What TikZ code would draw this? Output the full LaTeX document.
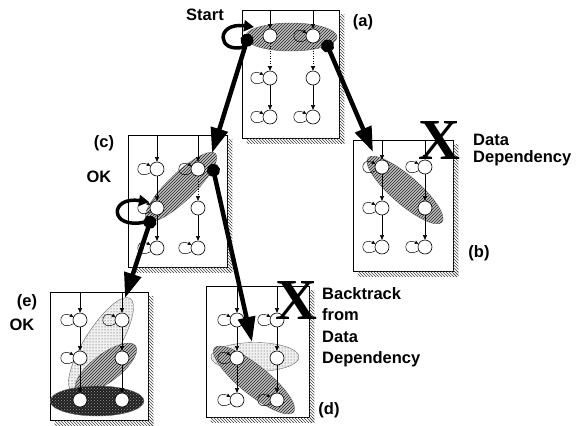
\documentclass[tikz,border=0pt]{standalone}
\usepackage{fontspec}
\newfontfamily\labfont{Liberation Sans}
\newfontfamily\xfont{Liberation Serif}
\usetikzlibrary{shapes.geometric,patterns,arrows.meta,fit}
\begin{document}
\begin{tikzpicture}[x=1pt,y=-1pt,
  st/.style={circle,draw,line width=0.6pt,fill=white,minimum size=14pt,inner sep=0pt},
  boxst/.style={draw,line width=0.8pt,fill=white,inner sep=0pt},
  shadowpat/.style={pattern=north west lines,pattern color=black!75},
  ell/.style={ellipse,draw=black!60,line width=0.4pt,inner sep=0pt},
  hatch/.style={fill=gray!50,postaction={pattern=north east lines,pattern color=black!85}},
  stipple/.style={fill=gray!12,postaction={pattern=dots,pattern color=black!75}},
  dark/.style={fill=black!88,postaction={pattern=crosshatch dots,pattern color=gray!80}},
  edgest/.style={-{Triangle[length=4.5pt,width=4pt]},line width=0.5pt},
  loopst/.style={-{Triangle[length=3.5pt,width=3.5pt]},line width=0.5pt},
  bigarrow/.style={line width=4.5pt,{Circle[length=13pt]}-{Triangle[length=25pt,width=17pt]}},
  thickloop/.style={line width=3.5pt,-{Triangle[length=10pt,width=11pt]}},
  lab/.style={font=\labfont\bfseries\fontsize{16.5}{17}\selectfont,inner sep=0pt},
  bigx/.style={font=\xfont\bfseries\fontsize{58}{58}\selectfont,inner sep=0pt}
]
\useasboundingbox (0,0) rectangle (579,426);

% ---------------- panel (a)
\node[boxst,fit={(242,10)(339,138)}] (aB) {};
\fill[shadowpat] ([yshift=-5pt]aB.north east) rectangle ([xshift=5pt,yshift=-5pt]aB.south east);
\fill[shadowpat] ([xshift=5pt]aB.south west) rectangle ([xshift=5pt,yshift=-5pt]aB.south east);
\node[ell,hatch,minimum width=92pt,minimum height=28pt] (ea) at (291,37) {};
\node[st] (a11) at (270,36) {};
\node[st] (a12) at (313,36) {};
\node[st] (a21) at (270,78) {};
\node[st] (a22) at (313,78) {};
\node[st] (a31) at (270,117) {};
\node[st] (a32) at (313,117) {};
\draw[edgest] (a11 |- aB.north) -- (a11);
\draw[edgest] (a12 |- aB.north) -- (a12);
\draw[edgest,dotted] (a11) -- (a21);
\draw[edgest,dotted] (a12) -- (a22);
\draw[edgest] (a21) -- (a31);
\draw[edgest] (a22) -- (a32);
\foreach \n in {a12,a21,a31,a32}
  \draw[loopst] (\n.210) .. controls +(-17,9) and +(-16,-8) .. (\n.155);

% ---------------- panel (b)
\node[boxst,fit={(353,140)(453,271)}] (bB) {};
\fill[shadowpat] ([yshift=-5pt]bB.north east) rectangle ([xshift=5pt,yshift=-5pt]bB.south east);
\fill[shadowpat] ([xshift=5pt]bB.south west) rectangle ([xshift=5pt,yshift=-5pt]bB.south east);
\node[ell,hatch,minimum width=98pt,minimum height=28pt,rotate=-41] (eb) at (405,190) {};
\node[st] (b11) at (382,167) {};
\node[st] (b12) at (425,167) {};
\node[st] (b21) at (382,208) {};
\node[st] (b22) at (425,208) {};
\node[st] (b31) at (382,247) {};
\node[st] (b32) at (425,247) {};
\draw[edgest] (b11 |- bB.north) -- (b11);
\draw[edgest] (b12 |- bB.north) -- (b12);
\draw[edgest] (b11) -- (b21);
\draw[edgest] (b12) -- (b22);
\draw[edgest] (b21) -- (b31);
\draw[edgest] (b22) -- (b32);
\foreach \n in {b11,b12,b21,b31,b32}
  \draw[loopst] (\n.210) .. controls +(-17,9) and +(-16,-8) .. (\n.155);

% ---------------- panel (c)
\node[boxst,fit={(128,135)(227,267)}] (cB) {};
\fill[shadowpat] ([yshift=-5pt]cB.north east) rectangle ([xshift=5pt,yshift=-5pt]cB.south east);
\fill[shadowpat] ([xshift=5pt]cB.south west) rectangle ([xshift=5pt,yshift=-5pt]cB.south east);
\node[ell,hatch,minimum width=96pt,minimum height=27pt,rotate=44] (ec) at (181,187) {};
\node[st] (c11) at (157,169) {};
\node[st] (c12) at (198,169) {};
\node[st] (c21) at (157,208) {};
\node[st] (c22) at (198,208) {};
\node[st] (c31) at (157,248) {};
\node[st] (c32) at (198,248) {};
\draw[edgest] (c11 |- cB.north) -- (c11);
\draw[edgest] (c12 |- cB.north) -- (c12);
\draw[edgest] (c11) -- (c21);
\draw[edgest,dotted] (c12) -- (c22);
\draw[edgest] (c21) -- (c31);
\draw[edgest] (c22) -- (c32);
\foreach \n in {c11,c12,c21,c31,c32}
  \draw[loopst] (\n.210) .. controls +(-17,9) and +(-16,-8) .. (\n.155);

% ---------------- panel (d)
\node[boxst,fit={(206,286)(309,417)}] (dB) {};
\fill[shadowpat] ([yshift=-5pt]dB.north east) rectangle ([xshift=5pt,yshift=-5pt]dB.south east);
\fill[shadowpat] ([xshift=5pt]dB.south west) rectangle ([xshift=5pt,yshift=-5pt]dB.south east);
\node[ell,stipple,minimum width=88pt,minimum height=29pt] (ed1) at (255,357) {};
\node[ell,hatch,minimum width=102pt,minimum height=29pt,rotate=-39] (ed2) at (254,380) {};
\node[st] (d11) at (237,320) {};
\node[st] (d12) at (277,320) {};
\node[st] (d21) at (237,358) {};
\node[st] (d22) at (277,358) {};
\node[st] (d31) at (237,400) {};
\node[st] (d32) at (277,400) {};
\draw[edgest] (d11 |- dB.north) -- (d11);
\draw[edgest] (d12 |- dB.north) -- (d12);
\draw[edgest] (d11) -- (d21);
\draw[edgest] (d12) -- (d22);
\draw[edgest] (d21) -- (d31);
\draw[edgest] (d22) -- (d32);
\foreach \n in {d11,d12,d21,d31,d32}
  \draw[loopst] (\n.210) .. controls +(-17,9) and +(-16,-8) .. (\n.155);

% ---------------- panel (e)
\node[boxst,fit={(50,292)(148,420)}] (eB) {};
\fill[shadowpat] ([yshift=-5pt]eB.north east) rectangle ([xshift=5pt,yshift=-5pt]eB.south east);
\fill[shadowpat] ([xshift=5pt]eB.south west) rectangle ([xshift=5pt,yshift=-5pt]eB.south east);
\node[ell,stipple,minimum width=110pt,minimum height=34pt,rotate=58] (ee1) at (101,345) {};
\node[ell,hatch,minimum width=74pt,minimum height=28pt,rotate=37] (ee2) at (106,368) {};
\node[ell,dark,minimum width=94pt,minimum height=30pt] (ee3) at (97,401) {};
\node[st] (e11) at (80,320) {};
\node[st] (e12) at (122,320) {};
\node[st] (e21) at (80,358) {};
\node[st] (e22) at (122,358) {};
\node[st] (e31) at (80,400) {};
\node[st] (e32) at (122,400) {};
\draw[edgest] (e11 |- eB.north) -- (e11);
\draw[edgest] (e12 |- eB.north) -- (e12);
\draw[edgest] (e11) -- (e21);
\draw[edgest] (e12) -- (e22);
\draw[edgest] (e21) -- (e31);
\draw[edgest] (e22) -- (e32);
\foreach \n in {e11,e12,e21}
  \draw[loopst] (\n.210) .. controls +(-17,9) and +(-16,-8) .. (\n.155);

% ---------------- labels
\node[lab] (tstart) at (205,15) {Start};
\node[lab] (la) at (363,22) {(a)};
\node[lab] (lb) at (479,253) {(b)};
\node[lab] (lc) at (104,143) {(c)};
\node[lab] (okc) at (99,177) {OK};
\node[lab] (ld) at (329,410) {(d)};
\node[lab] (le) at (27,302) {(e)};
\node[lab] (oke) at (22,325) {OK};
\node[lab,anchor=north west,align=left] (dd) at (473,134) {Data\\Dependency};
\node[lab,anchor=north west,align=left,font=\labfont\bfseries\fontsize{16.5}{21.5}\selectfont] (bt) at (322,287) {Backtrack\\from\\Data\\Dependency};
\node[bigx] (xb) at (439,141) {X};
\node[bigx] (xd) at (296,301) {X};

% ---------------- thick loops and arrows
\coordinate (sl1) at (244,47);
\coordinate (sl2) at (254,27);
\draw[thickloop] (sl1) .. controls (217,54) and (215,22) .. (sl2);
\coordinate (ol1) at (145,222);
\coordinate (ol2) at (149,202);
\draw[thickloop] (ol1) .. controls (109,230) and (109,196) .. (ol2);

\coordinate (s1) at (249,34);  \coordinate (t1) at (212,153);
\coordinate (s2) at (325,40);  \coordinate (t2) at (373,152);
\coordinate (s3) at (152,216); \coordinate (t3) at (125,298);
\coordinate (s4) at (212,164); \coordinate (t4) at (252,342);
\draw[bigarrow] (s1) -- (t1);
\draw[bigarrow] (s2) -- (t2);
\draw[bigarrow] (s3) -- (t3);
\draw[bigarrow] (s4) -- (t4);
\end{tikzpicture}
\end{document}
